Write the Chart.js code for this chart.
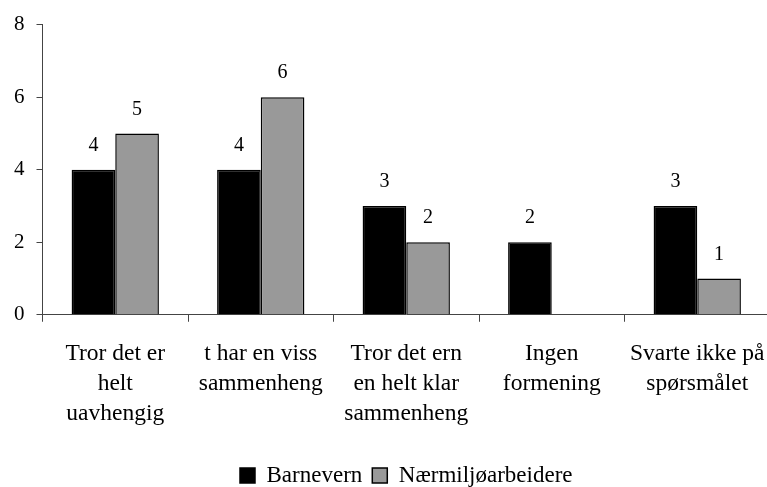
<!DOCTYPE html>
<html>
<head>
<meta charset="utf-8">
<script src="https://cdn.jsdelivr.net/npm/chart.js@4.4.1/dist/chart.umd.min.js"></script>
<style>
  html, body { margin: 0; padding: 0; background: #fff; overflow: hidden; }
  #wrap { width: 767px; height: 487px; overflow: hidden; }
</style>
</head>
<body>
<div id="wrap"><canvas id="bar-chart" width="790" height="487"></canvas></div>
<script>
let categories = [
  ['Tror det er', 'helt', 'uavhengig'],
  ['t har en viss', 'sammenheng'],
  ['Tror det ern', 'en helt klar', 'sammenheng'],
  ['Ingen', 'formening'],
  ['Svarte ikke på', 'spørsmålet'],
];
let seriesNames = ['Barnevern', 'Nærmiljøarbeidere'];
let barnevern = [4, 4, 3, 2, 3];
let naermiljo = [5, 6, 2, null, 1];
let yTicks = [0, 2, 4, 6, 8];

let serif = "'Liberation Serif', 'Times New Roman', serif";

// draws the number above each bar
let valueLabels = {
  id: 'valueLabels',
  afterDatasetsDraw(chart) {
    let ctx = chart.ctx;
    ctx.save();
    ctx.font = '20px ' + serif;
    ctx.fillStyle = '#000';
    ctx.textAlign = 'center';
    ctx.textBaseline = 'middle';
    chart.data.datasets.forEach((ds, i) => {
      let meta = chart.getDatasetMeta(i);
      meta.data.forEach((bar, j) => {
        let v = ds.data[j];
        if (v == null) return;
        ctx.fillText(String(v), bar.x, bar.y - 24);
      });
    });
    ctx.restore();
  }
};

let renderChart = () => {
  let el = document.getElementById('bar-chart');
  new Chart(el, {
    type: 'bar',
    data: {
      labels: categories,
      datasets: [
        {
          label: seriesNames[0],
          data: barnevern,
          backgroundColor: '#000000',
          borderColor: '#000000',
          borderWidth: 1.5,
        },
        {
          label: seriesNames[1],
          data: naermiljo,
          backgroundColor: '#999999',
          borderColor: '#000000',
          borderWidth: 1.5,
        },
      ],
    },
    options: {
      responsive: false,
      animation: false,
      layout: { padding: { left: 2, top: 8, right: 20, bottom: -10 } },
      datasets: { bar: { categoryPercentage: 0.6, barPercentage: 1.0 } },
      scales: {
        x: {
          grid: {
            offset: true,
            drawOnChartArea: false,
            tickLength: 7,
            color: '#444',
          },
          border: { color: '#444', width: 1 },
          ticks: {
            font: { family: serif, size: 23.5, lineHeight: 1.28 },
            color: '#000',
            maxRotation: 0,
            autoSkip: false,
            padding: 17,
          },
          // leave a gap between the category labels and the legend
          afterFit: axis => { axis.height += 8; },
        },
        y: {
          min: 0,
          max: 8,
          afterBuildTicks: axis => { axis.ticks = yTicks.map(v => ({ value: v })); },
          grid: { drawOnChartArea: false, tickLength: 6, color: '#444' },
          border: { color: '#444', width: 1 },
          ticks: {
            font: { family: serif, size: 21 },
            color: '#000',
            padding: 12,
          },
        },
      },
      plugins: {
        legend: {
          position: 'bottom',
          fullSize: false,
          labels: {
            font: { family: serif, size: 23 },
            color: '#000',
            boxWidth: 15,
            boxHeight: 15,
            padding: 10,
          },
        },
        tooltip: { enabled: false },
      },
    },
    plugins: [valueLabels],
  });
};

renderChart();
</script>
</body>
</html>
